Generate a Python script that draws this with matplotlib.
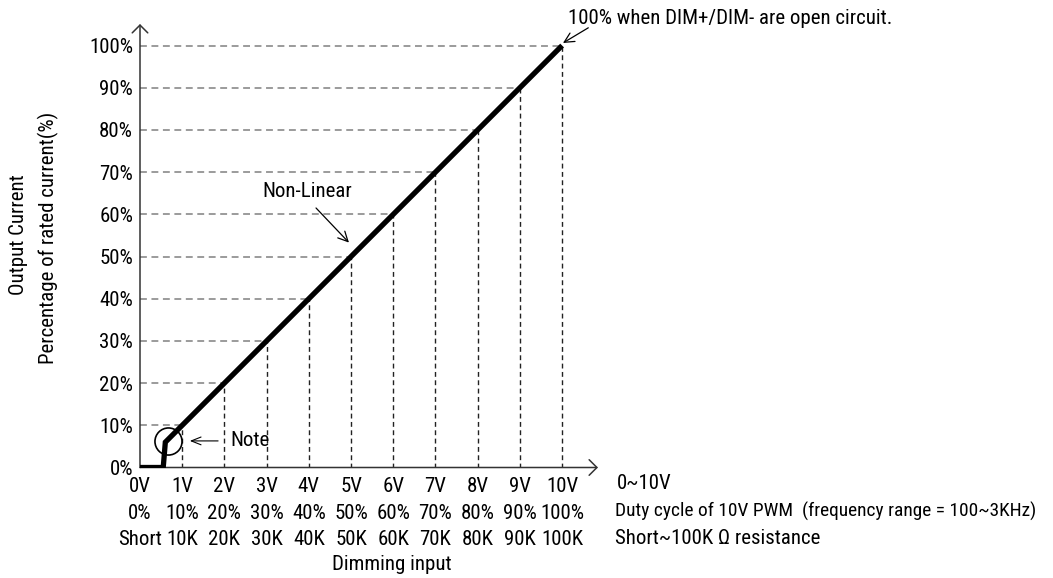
import matplotlib
matplotlib.use("Agg")
import matplotlib.pyplot as plt
from matplotlib import font_manager as fm

# ---- data ----
volts = [1, 2, 3, 4, 5, 6, 7, 8, 9, 10]
levels = [10, 20, 30, 40, 50, 60, 70, 80, 90, 100]
curve_x = [0, 0.55, 0.6, 10]
curve_y = [0, 0, 6, 100]
y_ticks = [0, 10, 20, 30, 40, 50, 60, 70, 80, 90, 100]
y_labels = ['0%', '10%', '20%', '30%', '40%', '50%', '60%', '70%', '80%', '90%', '100%']
x_ticks = [0, 1, 2, 3, 4, 5, 6, 7, 8, 9, 10]
v_labels = ['0V', '1V', '2V', '3V', '4V', '5V', '6V', '7V', '8V', '9V', '10V']
duty_labels = ['0%', '10%', '20%', '30%', '40%', '50%', '60%', '70%', '80%', '90%', '100%']
res_labels = ['Short', '10K', '20K', '30K', '40K', '50K', '60K', '70K', '80K', '90K', '100K']
note_point = (0.67, 6.3)

# pick a condensed family if one is installed
names = {f.name for f in fm.fontManager.ttflist}
stretches = {(f.name, f.stretch) for f in fm.fontManager.ttflist}
chosen = None
STRETCH = 'normal'
for cand in ['Liberation Sans Narrow', 'Arial Narrow', 'Roboto Condensed',
             'Open Sans Condensed', 'Noto Sans Condensed', 'DejaVu Sans Condensed']:
    if cand in names:
        chosen = cand
        break
if chosen is None:
    for (n, s) in stretches:
        if s in ('condensed', 'semi-condensed', 'extra-condensed', 75, 87, 62) and \
                n in ('Noto Sans', 'DejaVu Sans', 'Open Sans', 'Roboto'):
            chosen = n
            STRETCH = 'condensed'
            break
if chosen is None:
    FAM = ['Liberation Sans', 'DejaVu Sans']
    FS = 13.2
else:
    FAM = [chosen, 'Liberation Sans', 'DejaVu Sans']
    FS = 15
plt.rcParams['font.family'] = FAM
plt.rcParams['font.stretch'] = STRETCH

W, H = 1053, 578
fig = plt.figure(figsize=(W / 100, H / 100), dpi=100)
x0, x1 = 140, 598
y0, y1 = 467.5, 24
ax = fig.add_axes([x0 / W, (H - y0) / H, (x1 - x0) / W, (y0 - y1) / H])
ax.set_xlim(0, 10.85)
ax.set_ylim(0, 105.1)
for s in ax.spines.values():
    s.set_visible(False)

# axes with open arrowheads
arrow_kw = dict(arrowstyle='->, head_length=0.4, head_width=0.4', lw=1.1, color='#333333',
                mutation_scale=14, shrinkA=0, shrinkB=0)
ax.annotate('', xy=(10.85, 0), xytext=(0, 0), arrowprops=arrow_kw, annotation_clip=False)
ax.annotate('', xy=(0, 105.1), xytext=(0, 0), arrowprops=arrow_kw, annotation_clip=False)

# dashed guide lines
for v, lv in zip(volts, levels):
    ax.plot([0, v], [lv, lv], color='#808080', lw=1.1, dashes=(4.5, 3), zorder=2)
    ax.plot([v, v], [0, lv], color='#222222', lw=1.0, dashes=(3.5, 2.5), zorder=2)

# curve
ax.plot(curve_x, curve_y, color='black', lw=3.8, solid_capstyle='butt',
        solid_joinstyle='miter', zorder=5)

# note circle
ax.plot([note_point[0]], [note_point[1]], marker='o', ms=19.5, mfc='none', mec='black',
        mew=1.2, zorder=6, clip_on=False)

# ticks
ax.set_yticks(y_ticks)
ax.set_yticklabels(y_labels, fontsize=FS)
ax.set_xticks(x_ticks)
ax.set_xticklabels([f'{a}\n{b}\n{c}' for a, b, c in zip(v_labels, duty_labels, res_labels)],
                   fontsize=FS, linespacing=1.5)
ax.tick_params(axis='both', length=0)
ax.tick_params(axis='y', pad=5)
ax.tick_params(axis='x', pad=7)

# annotations
ax.annotate('100% when DIM+/DIM- are open circuit.', xy=(10.14, 106.5), fontsize=FS,
            ha='left', va='center', annotation_clip=False)
ax.annotate('', xy=(10.02, 100.6), xytext=(10.62, 104.2),
            arrowprops=dict(arrowstyle='->, head_length=0.5, head_width=0.25', lw=0.9,
                            color='black', mutation_scale=14, shrinkA=0, shrinkB=0),
            annotation_clip=False)
ax.text(3.96, 65.3, 'Non-Linear', fontsize=FS, ha='center', va='center')
ax.annotate('', xy=(4.95, 53.3), xytext=(4.17, 61.5),
            arrowprops=dict(arrowstyle='->, head_length=0.5, head_width=0.25', lw=0.9,
                            color='black', mutation_scale=14, shrinkA=0, shrinkB=0))
ax.text(2.13, 6.3, 'Note', fontsize=FS, ha='left', va='center')
ax.annotate('', xy=(1.18, 6.3), xytext=(1.85, 6.3),
            arrowprops=dict(arrowstyle='->, head_length=0.5, head_width=0.2', lw=0.8,
                            color='black', mutation_scale=14, shrinkA=0, shrinkB=0))

ax.text(11.3, -3.9, '0~10V', fontsize=FS, ha='left', va='center', clip_on=False)
ax.text(11.26, -10.4, 'Duty cycle of 10V PWM  (frequency range = 100~3KHz)',
        fontsize=FS * 0.93, ha='left', va='center', clip_on=False)
ax.text(11.26, -16.9, 'Short~100K \u03a9 resistance', fontsize=FS, ha='left', va='center',
        clip_on=False)
ax.text(4.55, -23.1, 'Dimming input', fontsize=FS, ha='left', va='center', clip_on=False)

fig.text(18 / W, 1 - 235 / H, 'Output Current', fontsize=FS, rotation=90,
         ha='center', va='center')
fig.text(48 / W, 1 - 238 / H, 'Percentage of rated current(%)', fontsize=FS, rotation=90,
         ha='center', va='center')

fig.savefig('out.png', dpi=100, facecolor='white')
